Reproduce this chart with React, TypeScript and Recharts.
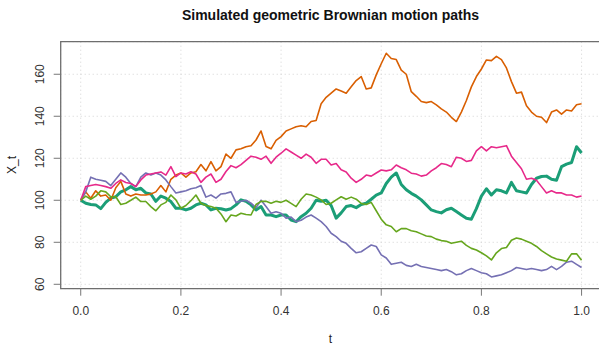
import {
  LineChart,
  Line,
  XAxis,
  YAxis,
  CartesianGrid,
  ReferenceArea,
} from "recharts";

const FONT = "'Liberation Sans', Arial, Helvetica, sans-serif";

// time grid, 101 steps on [0, 1]
const T = Array.from({ length: 101 }, (_, i) => i / 100);

const X_TICKS = [0, 0.2, 0.4, 0.6, 0.8, 1.0];
const Y_TICKS = [60, 80, 100, 120, 140, 160];

// paths (Dark2 palette)
const teal = [
  100, 98.6, 98, 97.8, 96, 99, 101, 101.7, 104, 105, 106.5, 105, 105.7, 103.5,
  103, 99.5, 102, 101, 99.4, 96.2, 96.2, 95.4, 96.2, 97.8, 98.6, 97.8, 95.4, 96.2, 96, 95.4, 96,
  97.8, 100.2, 99.5, 97.8, 95.4, 97, 93, 93, 92.2, 93, 93, 90.6, 89.8, 92.2, 93.8, 96.2, 100,
  99.5, 100, 97.5, 91.5, 94, 97, 97.5, 96.5, 98, 98.6, 100.5, 102.5, 103.5, 108, 111, 113, 107.5,
  105, 103.3, 102, 100.2, 97.8, 95.4, 94.6, 94, 95.5, 96.2, 94.6, 93, 91.4, 91, 96, 102, 105.5,
  102.5, 105, 104.5, 103.5, 108.5, 104.5, 104, 103.5, 107.5, 110.5, 111.3, 111.5, 110, 109.5, 116, 117.2, 118, 125.5, 122.5,
];

const orange = [
  100, 104, 101, 104.5, 102, 102.5, 100, 106, 109, 103, 102, 103, 102.5, 102.5,
  103, 104, 107, 104, 110, 112, 113, 111, 113, 113.6, 117, 114, 118.4, 114, 116, 122, 120,
  124, 124.5, 125.5, 126, 128.7, 133, 125.6, 124.5, 128.5, 130.3, 133, 134, 135, 135.5, 135, 137.5, 138,
  146, 149, 151, 153, 152, 151, 154, 157, 158.9, 153, 153.5, 159.7, 165, 170, 167.5, 167, 162,
  160, 151.7, 149.5, 147, 146.5, 147, 145.4, 143.5, 142, 139.5, 137.5, 142, 147.5, 154, 158.9, 162.5, 166.8,
  166.5, 168.5, 167, 163, 156.5, 151, 151.5, 145, 142, 140, 139.5, 137, 142, 143, 141, 143, 142.5, 145.5, 146,
];

const purple = [
  100, 104, 111, 110, 109.5, 109, 107, 110, 113, 111, 108, 106.5, 111, 113,
  112, 113, 112, 109.7, 106.5, 103.5, 104, 104.5, 105.5, 106, 107, 101.5, 102.5, 101, 103, 103.3, 104,
  99, 99.5, 100, 98.6, 96.5, 100, 97, 93.8, 94.5, 93.8, 91.5, 92, 89.8, 90.5, 92, 93, 91.5,
  89.8, 87.5, 84.3, 82.7, 80.5, 79.5, 77.1, 75, 75.5, 77.1, 78.7, 78, 74, 72.5, 69.5, 70, 70.5,
  69, 68.5, 69.5, 68.5, 68, 67.5, 67, 66.5, 67, 66, 64.5, 65, 66.5, 67.5, 66.5, 65.5, 65,
  63.5, 64, 64.5, 65.5, 66.5, 68, 67.5, 67, 67.5, 67, 66.5, 67, 68.5, 67, 68.5, 70.5, 71, 69.5, 68,
];

const pink = [
  100, 106.5, 107, 107.5, 107, 106.5, 105.7, 108, 109.7, 108.5, 108, 106.5, 109.7, 112,
  112.5, 113, 113.5, 112, 116, 111.3, 113, 112.5, 113.6, 112.5, 108.5, 111, 112.5, 108.5, 110, 113.7, 116.5,
  115.5, 117, 119, 121, 120.5, 119.5, 121, 117.6, 120.5, 122.4, 124.5, 123, 121.5, 120, 122, 120.5, 117.6,
  119.5, 119.5, 116.8, 117.5, 114.5, 113.5, 110.5, 108.5, 110, 112, 111.5, 113, 114.4, 114, 114.5, 116.8, 115.5,
  114.5, 112.9, 112.5, 111.5, 112, 114, 115.5, 117.5, 117, 116, 120.5, 120, 118.5, 119, 123.5, 125.5, 123.5,
  125.5, 125, 125.5, 126, 121, 118, 115, 110, 110.5, 109.5, 106.5, 103.5, 104.5, 103.5, 103.5, 102.5, 102.5, 101.5, 102,
];

const green = [
  100, 102, 100.5, 102, 104.5, 104, 101.7, 101.7, 98, 98.6, 100, 101.5, 99.4, 99.4,
  97, 95, 97.8, 99, 102.5, 100.2, 96.2, 97.5, 99.8, 102.5, 98.6, 97.5, 97, 96.2, 93.5, 89.8, 93,
  92.5, 93.8, 93.2, 93, 98, 99.5, 99.5, 98.6, 99.5, 99, 100, 98.5, 97, 100.5, 103, 102.5, 101.5,
  100.2, 98, 98.6, 100.2, 101.7, 100.5, 101.5, 100.5, 98.5, 98, 99, 95, 91, 88.3, 87.5, 85, 86.5,
  86.5, 85.5, 85, 84, 83, 82.7, 81.5, 80.8, 80.5, 79.5, 80, 80.5, 78.5, 77.1, 76.3, 75, 73.5,
  71.6, 75, 77, 77.5, 81, 82, 81.5, 80.5, 79.5, 78, 76, 74.5, 73, 72, 71.5, 71, 74.5, 74.5, 71.5,
];

const SERIES = [
  { key: "p1", values: teal, color: "#1B9E77", width: 3 },
  { key: "p2", values: orange, color: "#D95F02", width: 1.6 },
  { key: "p3", values: purple, color: "#7570B3", width: 1.6 },
  { key: "p4", values: pink, color: "#E7298A", width: 1.6 },
  { key: "p5", values: green, color: "#66A61E", width: 1.6 },
];

const data = T.map((t, i) => {
  const row: Record<string, number> = { t };
  SERIES.forEach((s) => (row[s.key] = s.values[i]));
  return row;
});

const XTick = (props: any) => {
  const { x, y, payload } = props;
  return (
    <text x={x} y={y + 19.3} textAnchor="middle" fontSize={12} fill="#333" fontFamily={FONT}>
      {Number(payload.value).toFixed(1)}
    </text>
  );
};

const YTick = (props: any) => {
  const { x, y, payload } = props;
  const bx = x - 9.5;
  return (
    <text
      x={bx}
      y={y}
      transform={`rotate(-90, ${bx}, ${y})`}
      textAnchor="middle"
      fontSize={12}
      fill="#333"
      fontFamily={FONT}
    >
      {payload.value}
    </text>
  );
};

export default function App() {
  return (
    <div style={{ position: "absolute", left: 0, top: 0, width: 599, height: 344, overflow: "hidden", background: "#fff" }}>
      <LineChart
        width={599}
        height={344}
        data={data}
        margin={{ top: 41.7, right: -2.6, bottom: 25.3, left: 0 }}
      >
        <CartesianGrid stroke="#d3d3d3" strokeDasharray="1 3" />
        <XAxis
          dataKey="t"
          type="number"
          domain={[-0.04, 1.04]}
          ticks={X_TICKS}
          allowDataOverflow
          height={30}
          axisLine={false}
          tickLine={{ stroke: "#777" }}
          tickSize={7}
          tickMargin={0}
          tick={<XTick />}
          interval={0}
        />
        <YAxis
          type="number"
          domain={[57.9, 175.5]}
          ticks={Y_TICKS}
          allowDataOverflow
          width={60.7}
          axisLine={false}
          tickLine={{ stroke: "#777" }}
          tickSize={7}
          tickMargin={0}
          tick={<YTick />}
          interval={0}
        />
        <ReferenceArea
          x1={-0.04}
          x2={1.04}
          y1={57.9}
          y2={175.5}
          fill="none"
          stroke="#6e6e6e"
          strokeWidth={1.3}
          ifOverflow="visible"
        />
        {SERIES.map((s) => (
          <Line
            key={s.key}
            dataKey={s.key}
            type="linear"
            stroke={s.color}
            strokeWidth={s.width}
            strokeLinejoin="round"
            dot={false}
            activeDot={false}
            isAnimationActive={false}
          />
        ))}
      </LineChart>
      <svg
        width={599}
        height={344}
        style={{ position: "absolute", left: 0, top: 0, pointerEvents: "none" }}
      >
        <text x={330.5} y={20} textAnchor="middle" fontSize={14} fontWeight="bold" fill="#111" fontFamily={FONT}>
          Simulated geometric Brownian motion paths
        </text>
        <text x={330.5} y={342.5} textAnchor="middle" fontSize={12} fill="#222" fontFamily={FONT}>
          t
        </text>
        <text
          x={16}
          y={165}
          transform="rotate(-90, 16, 165)"
          textAnchor="middle"
          fontSize={12}
          fill="#222"
          fontFamily={FONT}
        >
          X_t
        </text>
      </svg>
    </div>
  );
}
